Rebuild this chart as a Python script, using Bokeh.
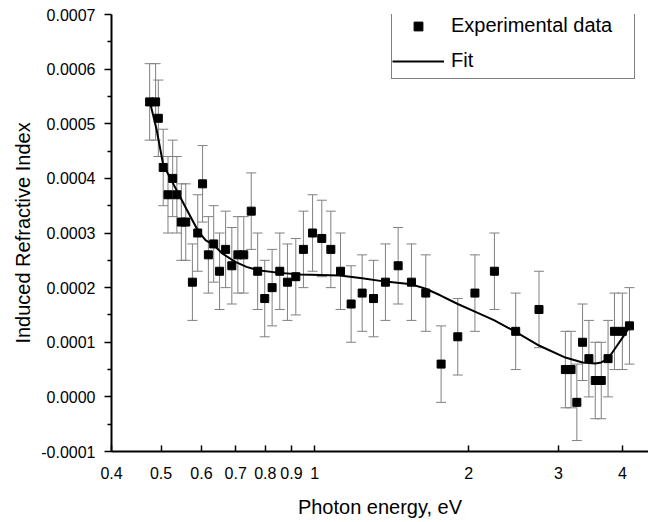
from bokeh.plotting import figure
from bokeh.models import (ColumnDataSource, Whisker, TeeHead, FixedTicker,
                          PrintfTickFormatter, Legend, LegendItem, Range1d)
from bokeh.embed import file_html
from bokeh.resources import INLINE

# ---- data ----
energy = [0.475, 0.488, 0.494, 0.505, 0.516, 0.527, 0.537, 0.548, 0.559, 0.576,
          0.590, 0.603, 0.619, 0.634, 0.651, 0.669, 0.688, 0.707, 0.726, 0.751,
          0.773, 0.798, 0.825, 0.854, 0.884, 0.918, 0.950, 0.990, 1.032, 1.075,
          1.123, 1.178, 1.238, 1.303, 1.375, 1.456, 1.546, 1.649, 1.767, 1.905,
          2.058, 2.247, 2.473, 2.747, 3.094, 3.174, 3.258, 3.343, 3.440, 3.540,
          3.637, 3.750, 3.860, 4.000, 4.130]
index = [0.00054, 0.00054, 0.00051, 0.00042, 0.00037, 0.00040, 0.00037, 0.00032, 0.00032, 0.00021,
         0.00030, 0.00039, 0.00026, 0.00028, 0.00023, 0.00027, 0.00024, 0.00026, 0.00026, 0.00034,
         0.00023, 0.00018, 0.00020, 0.00023, 0.00021, 0.00022, 0.00027, 0.00030, 0.00029, 0.00027,
         0.00023, 0.00017, 0.00019, 0.00018, 0.00021, 0.00024, 0.00021, 0.00019, 0.00006, 0.00011,
         0.00019, 0.00023, 0.00012, 0.00016, 0.00005, 0.00005, -0.00001, 0.00010, 0.00007, 0.00003,
         0.00003, 0.00007, 0.00012, 0.00012, 0.00013]
error = [0.00007] * len(energy)

fit_energy = [0.477, 0.490, 0.505, 0.525, 0.541, 0.560, 0.590, 0.611, 0.634, 0.660,
              0.699, 0.735, 0.773, 0.854, 0.938, 1.026, 1.120, 1.172, 1.238, 1.375,
              1.546, 1.649, 1.760, 1.905, 2.058, 2.247, 2.473, 2.747, 3.094, 3.343,
              3.540, 3.637, 3.750, 3.880, 4.000, 4.130]
fit_index = [0.000535, 0.000490, 0.000425, 0.000395, 0.000372, 0.000345, 0.000305, 0.000287, 0.000278, 0.000262,
             0.000247, 0.000238, 0.000232, 0.000227, 0.000224, 0.000223, 0.000222, 0.000220, 0.000217, 0.000211,
             0.000206, 0.000198, 0.000186, 0.000170, 0.000156, 0.000140, 0.000119, 0.000094, 0.000072, 0.000063,
             0.000061, 0.000063, 0.000070, 0.000090, 0.000108, 0.000128]

x_ticks = [0.4, 0.5, 0.6, 0.7, 0.8, 0.9, 1, 2, 3, 4]
x_tick_labels = ["0.4", "0.5", "0.6", "0.7", "0.8", "0.9", "1", "2", "3", "4"]
y_ticks = [-0.0001, 0.0, 0.0001, 0.0002, 0.0003, 0.0004, 0.0005, 0.0006, 0.0007]
y_minor = [-0.00005, 0.00005, 0.00015, 0.00025, 0.00035, 0.00045, 0.00055, 0.00065]

FONT = "Liberation Sans"

src = ColumnDataSource(dict(
    x=energy, y=index,
    upper=[v + e for v, e in zip(index, error)],
    lower=[v - e for v, e in zip(index, error)],
))
fit_src = ColumnDataSource(dict(x=fit_energy, y=fit_index))

p = figure(width=648, height=520, x_axis_type="log",
           x_range=Range1d(0.4, 4.50), y_range=Range1d(-0.0001, 0.0007),
           output_backend="svg", toolbar_location=None,
           min_border_left=111, min_border_right=0, min_border_top=14,
           min_border_bottom=68)
p.outline_line_color = None
p.grid.visible = False
p.background_fill_color = "white"

grey = "#808080"
wh = Whisker(base="x", upper="upper", lower="lower", source=src,
             line_color=grey, line_width=1,
             upper_head=TeeHead(size=10, line_color=grey, line_width=1),
             lower_head=TeeHead(size=10, line_color=grey, line_width=1))
p.add_layout(wh)

ln = p.line("x", "y", source=fit_src, line_color="black", line_width=2)
sc = p.scatter("x", "y", source=src, marker="square", size=8,
               fill_color="black", line_color="black")

# x axis
xa = p.xaxis[0]
xa.ticker = FixedTicker(ticks=x_ticks, minor_ticks=[])
xa.major_label_overrides = {t: l for t, l in zip(x_ticks, x_tick_labels)}
xa.major_tick_in = 6
xa.major_tick_out = 0
xa.minor_tick_in = 0
xa.minor_tick_out = 0
xa.axis_line_width = 2
xa.axis_line_color = "black"
xa.major_tick_line_color = "black"
xa.major_tick_line_width = 1.5
xa.major_label_standoff = 15
xa.major_label_text_font = FONT
xa.major_label_text_font_size = "16px"
xa.major_label_text_color = "black"
xa.axis_label = "Photon energy, eV"
xa.axis_label_text_font = FONT
xa.axis_label_text_font_size = "20px"
xa.axis_label_text_font_style = "normal"
xa.axis_label_text_color = "black"
xa.axis_label_standoff = 14

# y axis
ya = p.yaxis[0]
ya.ticker = FixedTicker(ticks=y_ticks, minor_ticks=y_minor)
ya.formatter = PrintfTickFormatter(format="%.4f")
ya.major_tick_in = 0
ya.major_tick_out = 7
ya.minor_tick_in = 0
ya.minor_tick_out = 4
ya.axis_line_width = 2
ya.axis_line_color = "black"
ya.major_tick_line_color = "black"
ya.minor_tick_line_color = "black"
ya.major_tick_line_width = 1.5
ya.minor_tick_line_width = 1.5
ya.major_label_standoff = 9
ya.major_label_text_font = FONT
ya.major_label_text_font_size = "16px"
ya.major_label_text_color = "black"
ya.axis_label = "Induced Refractive Index"
ya.axis_label_text_font = FONT
ya.axis_label_text_font_size = "20px"
ya.axis_label_text_font_style = "normal"
ya.axis_label_text_color = "black"
ya.axis_label_standoff = 4

legend = Legend(items=[LegendItem(label="Experimental data", renderers=[sc]),
                       LegendItem(label="Fit", renderers=[ln])],
                location=(280, 372), padding=0, margin=0, spacing=0,
                glyph_width=52, glyph_height=22, label_height=35,
                label_width=183, label_standoff=7,
                border_line_color="black", border_line_width=1,
                label_text_font=FONT, label_text_font_size="20px",
                label_text_color="black",
                background_fill_color="white", background_fill_alpha=1.0)
p.add_layout(legend)

open("out.html", "w").write(file_html(p, INLINE))
